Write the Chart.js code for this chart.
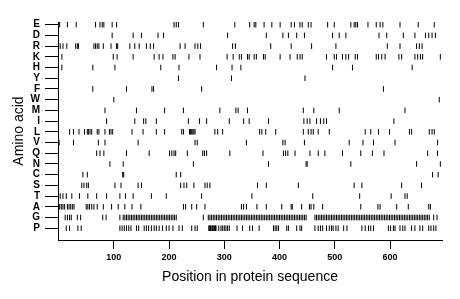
<!DOCTYPE html>
<html>
<head>
<meta charset="utf-8">
<script src="https://cdn.jsdelivr.net/npm/chart.js@4.4.1/dist/chart.umd.min.js"></script>
<style>
  html, body { margin: 0; padding: 0; background: #fff; }
  #contenedor { width: 460px; height: 299px; }
</style>
</head>
<body>
<div id="contenedor"><canvas id="graficoAminoacidos"></canvas></div>
<script>
// filas de arriba hacia abajo
const aminoacidos = ["E", "D", "R", "K", "H", "Y", "F", "W", "M", "I", "L", "V", "Q", "N", "C", "S", "T", "A", "G", "P"];
const ticksX = [100, 200, 300, 400, 500, 600];

// posiciones de cada aminoácido en la secuencia
const posE = [2, 16, 32, 67, 75, 79, 82, 97, 105, 209, 213, 217, 262, 319, 346, 354, 357, 372, 386, 401, 421, 427, 437, 441, 452, 457, 487, 499, 529, 535, 538, 541, 560, 575, 582, 587, 618, 651, 680];
const posD = [97, 135, 150, 180, 190, 306, 376, 406, 416, 431, 445, 496, 508, 520, 580, 594, 624, 645, 664, 670, 676, 682];
const posR = [3, 8, 15, 31, 34, 36, 64, 67, 70, 73, 81, 95, 105, 107, 129, 138, 146, 159, 166, 172, 220, 229, 247, 252, 257, 315, 320, 384, 421, 458, 502, 595, 618, 648, 653, 658];
const posK = [6, 99, 106, 135, 173, 182, 189, 207, 211, 236, 256, 305, 316, 327, 331, 342, 345, 354, 358, 371, 374, 401, 419, 432, 437, 441, 485, 499, 503, 514, 520, 525, 537, 541, 575, 579, 585, 591, 616, 621, 645, 650, 655, 659, 691];
const posH = [6, 62, 102, 185, 218, 286, 314, 330, 496, 532, 640];
const posY = [217, 313, 446];
const posF = [62, 123, 169, 172, 259, 588];
const posW = [100, 689];
const posM = [84, 141, 192, 226, 292, 321, 325, 342, 443, 462, 508, 627];
const posI = [87, 138, 154, 158, 177, 235, 255, 268, 309, 335, 345, 380, 444, 450, 455, 467, 474, 480, 485, 607];
const posL = [20, 27, 37, 47, 52, 54, 57, 60, 70, 73, 84, 92, 95, 98, 133, 153, 177, 192, 223, 226, 237, 239, 241, 243, 245, 247, 283, 288, 297, 364, 368, 375, 393, 443, 452, 457, 461, 470, 490, 555, 565, 579, 599, 635, 639, 671, 676, 680];
const posV = [1, 27, 72, 84, 144, 247, 251, 340, 406, 410, 445, 526, 551, 570, 609, 686];
const posQ = [69, 75, 82, 123, 164, 201, 205, 209, 212, 233, 261, 264, 268, 310, 370, 407, 411, 415, 428, 455, 470, 482, 514, 547, 568, 589, 668, 686];
const posN = [93, 117, 244, 380, 448, 450, 529, 648, 691];
const posC = [44, 52, 116, 118, 213, 221, 677, 687];
const posS = [42, 46, 51, 54, 102, 113, 144, 150, 221, 227, 232, 245, 265, 269, 274, 360, 376, 434, 535, 549, 621, 657];
const posT = [3, 8, 14, 24, 38, 53, 69, 87, 111, 121, 135, 168, 195, 259, 350, 460, 545, 602, 627, 631];
const posA = [2, 5, 8, 11, 16, 19, 22, 25, 28, 50, 53, 56, 60, 64, 70, 81, 96, 108, 120, 133, 149, 226, 230, 241, 250, 265, 331, 335, 340, 359, 376, 404, 421, 423, 440, 454, 457, 462, 478, 547, 578, 582, 612, 633, 670, 673];
const posG = [12, 16, 20, 23, 34, 40, 80, 86, 111,
  117, 120, 123, 126, 129, 132, 135, 138, 141, 144, 147, 150, 153, 156, 159, 162, 165, 168, 171, 174, 177, 180, 183, 186, 189, 192, 195, 198, 201, 204, 207, 210, 213,
  262,
  271, 274, 277, 280, 283, 286, 289, 292, 295, 298, 301, 304, 307, 310, 313, 316, 319, 322, 325, 328, 331, 334, 337, 340, 343, 346, 349, 352, 355, 358, 361, 364, 367, 370, 373, 376, 379, 382, 385, 388, 391, 394, 397, 400, 403, 406, 409, 412, 415, 418, 421, 424, 427, 430, 433, 436, 439, 442, 445, 448,
  464, 467, 470, 473, 476, 479, 482, 485, 488, 491, 494, 497, 500, 503, 506, 509, 512, 515, 518, 521, 524, 527, 530, 533, 536, 539, 542, 545, 548, 551, 554, 557, 560, 563, 566, 569, 572, 575, 578, 581, 584, 587, 590, 593, 596, 599, 602, 605, 608, 611, 614, 617, 620, 623, 626, 629, 632, 635, 638, 641, 644, 647, 650, 653, 656, 659, 662, 665, 668, 671,
  679, 685];
const posP = [14, 20, 35, 41, 111, 115, 119, 123, 127, 131, 141, 145, 155, 159, 163, 168, 173, 177, 182, 188, 195, 200, 207, 218, 224, 241, 247, 251, 272, 273, 275, 276, 278, 279, 281, 282, 284, 285, 290, 294, 297, 300, 303, 306, 309, 323, 333, 346, 351, 363, 389, 392, 395, 398, 413, 416, 431, 437, 440, 464, 470, 474, 478, 485, 490, 494, 497, 502, 506, 516, 522, 549, 555, 561, 565, 570, 597, 601, 606, 609, 618, 623, 627, 639, 645, 654, 659, 670, 674, 679, 683];

const posiciones = [posE, posD, posR, posK, posH, posY, posF, posW, posM, posI, posL, posV, posQ, posN, posC, posS, posT, posA, posG, posP];

const fuente = "'Liberation Sans', Arial, sans-serif";

function dibujarGrafico() {
    const datasets = aminoacidos.map((aa, i) => ({
        label: aa,
        data: posiciones[i].map(p => ({ x: p, y: i })),
        pointStyle: "line",
        pointRotation: 90,
        pointRadius: 2.8,
        pointBorderWidth: 1,
        pointBorderColor: "#000",
        pointBackgroundColor: "#000",
        showLine: false
    }));

    new Chart(document.getElementById("graficoAminoacidos"), {
        type: "scatter",
        data: { datasets: datasets },
        options: {
            responsive: true,
            maintainAspectRatio: false,
            animation: false,
            events: [],
            layout: { padding: { top: 22, right: 18, left: 0, bottom: 0 } },
            plugins: { legend: { display: false }, tooltip: { enabled: false } },
            scales: {
                x: {
                    type: "linear",
                    min: -1,
                    max: 694,
                    afterFit: s => { s.height = 59; },
                    afterBuildTicks: s => { s.ticks = ticksX.map(v => ({ value: v })); },
                    grid: { drawOnChartArea: false, drawTicks: true, tickLength: 9, color: "#000", lineWidth: 1 },
                    border: { display: true, color: "#000", width: 1 },
                    ticks: { color: "#000", font: { family: fuente, size: 9, weight: "bold" }, padding: 3,
                             maxRotation: 0, autoSkip: false },
                    title: { display: true, text: "Position in protein sequence", color: "#000",
                             font: { family: fuente, size: 14 }, padding: { top: 0, bottom: 13 } }
                },
                y: {
                    type: "linear",
                    reverse: true,
                    min: -0.25,
                    max: 20.1,
                    afterFit: s => { s.width = 58; },
                    afterBuildTicks: s => { s.ticks = aminoacidos.map((aa, i) => ({ value: i })); },
                    grid: { drawOnChartArea: false, drawTicks: true, tickLength: 13, color: "#000", lineWidth: 1 },
                    border: { display: true, color: "#000", width: 1 },
                    ticks: { color: "#000", font: { family: fuente, size: 10, weight: "bold" }, padding: 5,
                             autoSkip: false, callback: v => aminoacidos[v] },
                    title: { display: true, text: "Amino acid", color: "#000",
                             font: { family: fuente, size: 14 }, padding: { top: 11, bottom: 0 } }
                }
            }
        }
    });
}

document.addEventListener("DOMContentLoaded", dibujarGrafico);
</script>
</body>
</html>
